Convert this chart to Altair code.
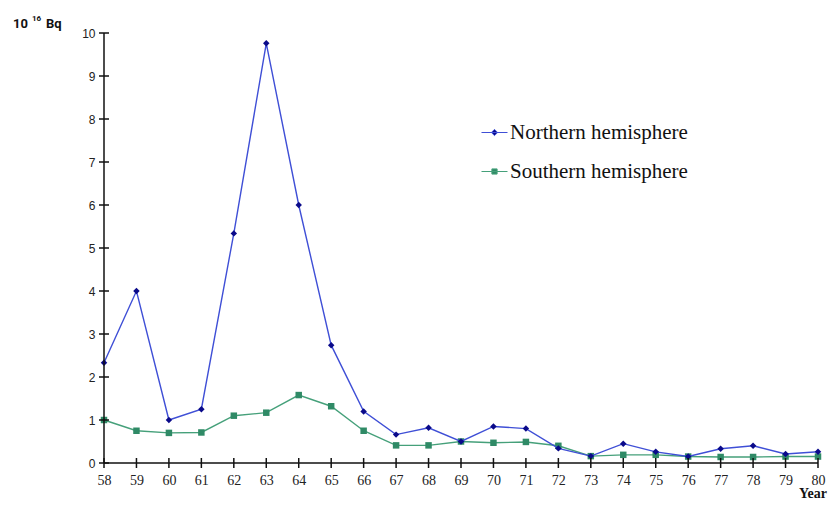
import altair as alt
import pandas as pd

years = list(range(58, 81))
northern = [2.33, 4.0, 1.0, 1.25, 5.34, 9.76, 6.0, 2.74, 1.2, 0.66, 0.82, 0.5,
            0.85, 0.8, 0.34, 0.16, 0.45, 0.26, 0.15, 0.33, 0.40, 0.21, 0.26]
southern = [1.0, 0.75, 0.70, 0.71, 1.10, 1.17, 1.58, 1.32, 0.75, 0.41, 0.41, 0.5,
            0.47, 0.49, 0.40, 0.16, 0.19, 0.19, 0.15, 0.14, 0.14, 0.15, 0.15]
series_names = ["Northern hemisphere", "Southern hemisphere"]
y_ticks = list(range(0, 11))

N_LINE, N_MARK = "#3f4fd6", "#0a0a8a"
S_LINE, S_MARK = "#45a07a", "#2f8a66"
AX = "#111111"

rows = []
for i, yr in enumerate(years):
    rows.append({"year": yr, "value": northern[i], "series": series_names[0]})
    rows.append({"year": yr, "value": southern[i], "series": series_names[1]})
df = pd.DataFrame(rows)
xt_df = pd.DataFrame({"year": years})
yt_df = pd.DataFrame({"value": y_ticks})
one = pd.DataFrame({"k": [0]})

xscale = alt.Scale(domain=[58, 80], nice=False, zero=False)
yscale = alt.Scale(domain=[0, 10], nice=False)

xaxis = alt.Axis(values=years, format="d", title=None, domain=False, grid=False,
                 ticks=False, labelFont="Liberation Serif", labelFontSize=14,
                 labelColor="#222", labelPadding=10, labelOverlap=False, labelFlush=False)
yaxis = alt.Axis(values=y_ticks, format="d", title=None, domain=False, grid=False,
                 ticks=False, labelFont="Liberation Sans", labelFontSize=12,
                 labelColor="#222", labelPadding=9, labelOverlap=False, labelFlush=False)

base = alt.Chart(df)
X = alt.X("year:Q", scale=xscale, axis=xaxis)
Y = alt.Y("value:Q", scale=yscale, axis=yaxis)

def series_layers(name, lcol, mcol, shape):
    sub = base.transform_filter(alt.datum.series == name)
    line = sub.mark_line(color=lcol, strokeWidth=1.4).encode(x=X, y=Y)
    pts = sub.mark_point(filled=True, shape=shape, size=42, color=mcol, opacity=1).encode(x=X, y=Y)
    return line + pts

layers_s = series_layers(series_names[1], S_LINE, S_MARK, "square")
layers_n = series_layers(series_names[0], N_LINE, N_MARK, "diamond")

x_dom = alt.Chart(one).mark_rule(color=AX, strokeWidth=1.5).encode(
    y=alt.YDatum(0, scale=yscale, axis=yaxis))
y_dom = alt.Chart(one).mark_rule(color=AX, strokeWidth=1.5).encode(
    x=alt.XDatum(58, scale=xscale, axis=xaxis))

x_ticks = alt.Chart(xt_df).mark_rule(color=AX, strokeWidth=1.5, yOffset=-5, y2Offset=5).encode(
    x=alt.X("year:Q", scale=xscale, axis=xaxis),
    y=alt.YDatum(0, scale=yscale, axis=yaxis),
    y2=alt.Y2Datum(0))
y_ticks_l = alt.Chart(yt_df).mark_rule(color=AX, strokeWidth=1.5, xOffset=-5, x2Offset=5).encode(
    y=alt.Y("value:Q", scale=yscale, axis=yaxis),
    x=alt.XDatum(58, scale=xscale, axis=xaxis),
    x2=alt.X2Datum(58))

legend = alt.Legend(orient="none", legendX=377, legendY=86, title=None,
                    symbolSize=676, symbolStrokeWidth=1, symbolOpacity=1,
                    labelFont="Liberation Serif", labelFontSize=21, labelColor="#111",
                    labelOffset=2, rowPadding=15, padding=0, labelLimit=0)
paths = ["M-1,0L1,0M0,-0.24L0.24,0L0,0.24L-0.24,0Z",
         "M-1,0L1,0M-0.2,-0.2L0.2,-0.2L0.2,0.2L-0.2,0.2Z"]
leg = alt.Chart(df).transform_filter("datum.value < 0").mark_point(filled=True, opacity=1).encode(
    fill=alt.Fill("series:N", scale=alt.Scale(domain=series_names, range=[N_MARK, S_MARK]), legend=legend),
    stroke=alt.Stroke("series:N", scale=alt.Scale(domain=series_names, range=[N_LINE, S_LINE]), legend=legend),
    shape=alt.Shape("series:N", scale=alt.Scale(domain=series_names, range=paths), legend=legend),
)

def label(txt, x, y, size, font):
    return alt.Chart(one).mark_text(text=txt, align="left", baseline="alphabetic", fontSize=size,
                                    fontWeight="bold", font=font, color="#111").encode(
        x=alt.value(x), y=alt.value(y))

t10 = label("10", -91, -5, 13, "Roboto")
t16 = label("16", -72, -12, 8, "Roboto")
tbq = label("Bq", -58, -5, 13, "Roboto")
tyear = label("Year", 695, 465, 14, "Liberation Serif")

chart = alt.layer(layers_s, layers_n, x_dom, y_dom, x_ticks, y_ticks_l, leg,
                  t10, t16, tbq, tyear).properties(
    width=714, height=430,
    autosize=alt.AutoSizeParams(type="none"),
    padding={"left": 96, "top": 25, "right": 14, "bottom": 39},
    background="white",
).configure_view(stroke=None)

chart.save("out.html", embed_options={"renderer": "svg", "actions": False})
